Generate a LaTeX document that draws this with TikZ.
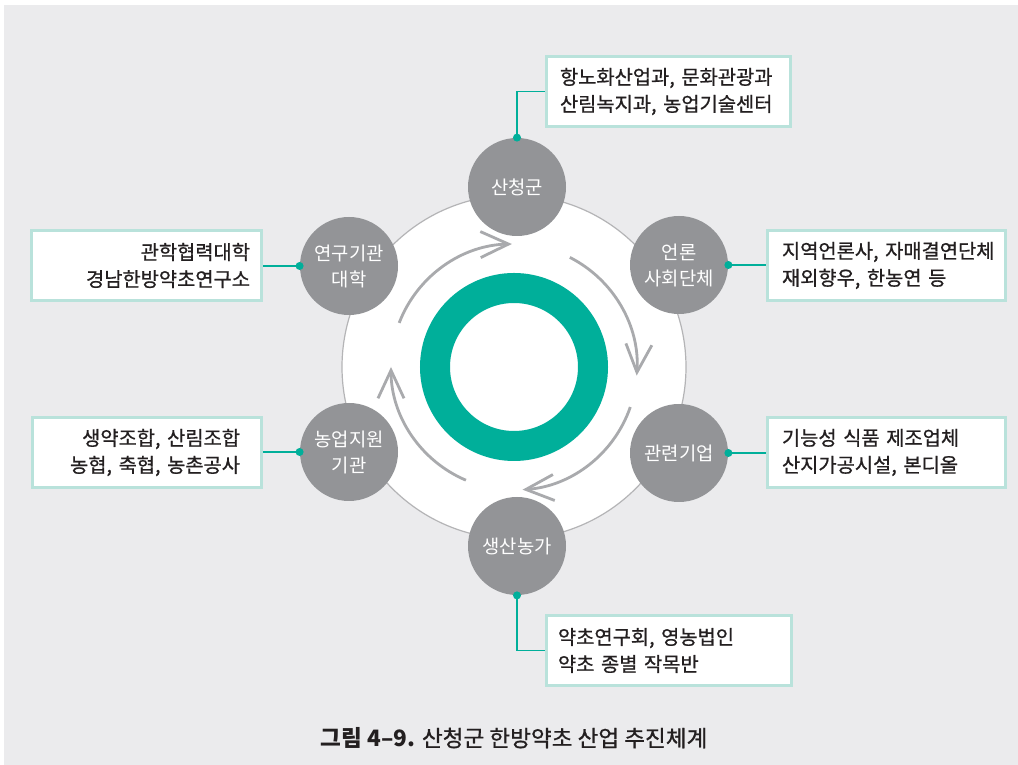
\documentclass[tikz,border=0pt]{standalone}
\usepackage{fontspec}
\setmainfont{Noto Sans CJK KR}
\newfontfamily\mediumfont[FakeBold=0.8]{Noto Sans CJK KR}
\usetikzlibrary{arrows.meta}
\definecolor{bggray}{HTML}{EBEBED}
\definecolor{nodegray}{HTML}{939497}
\definecolor{ringteal}{HTML}{00AF9A}
\definecolor{boxteal}{HTML}{B9E2DB}
\definecolor{arcgray}{HTML}{A9AAAD}
\definecolor{rimgray}{HTML}{B4B4B6}
\definecolor{textdark}{HTML}{231F20}

\begin{document}
\begin{tikzpicture}[x=0.5pt,y=0.5pt,
  actor/.style={circle, fill=nodegray, minimum size=49pt, inner sep=0pt,
    text=white, align=center, font=\fontsize{9.4}{13}\selectfont},
  infobox/.style={draw=boxteal, line width=1.4pt, fill=white,
    minimum height=35pt, inner ysep=0pt, text=textdark,
    font=\mediumfont\fontsize{9.9}{13.5}\selectfont},
  link/.style={ringteal, line width=0.8pt},
  cyclearrow/.style={arcgray, line width=1.4pt,
    -{Straight Barb[length=14pt,width=13pt]}}]
\useasboundingbox (0,0) rectangle (1018,765);
\fill[white] (0,0) rectangle (1018,765);
\fill[bggray] (4,0) rectangle (1018,760);
\coordinate (hub) at (514,398);
\draw [rimgray, line width=0.6pt, fill=white] (hub) circle [radius=172];
\draw [ringteal, line width=15pt] (hub) circle [radius=79];
\foreach \s/\e in {159/91, 63/-4, -19/-86, 247/180}
  \draw [cyclearrow] (hub) ++(\s:123) arc [start angle=\s, end angle=\e, radius=123];
\node [actor] (sancheong) at (517,578) {산청군};
\node [actor] (media) at (679,500) {언론\\사회단체};
\node [actor] (firm) at (679,312) {관련기업};
\node [actor] (farm) at (517,219) {생산농가};
\node [actor] (support) at (349,313) {농업지원\\기관};
\node [actor] (research) at (349,499) {연구기관\\대학};
\node [infobox, inner xsep=6.75pt, text width=108.5pt, align=left] (bAdmin) at (668.5,673.5)
  {항노화산업과,~문화관광과\\산림녹지과,~농업기술센터};
\node [infobox, inner xsep=7.25pt, text width=104.5pt, align=left] (bMedia) at (886.5,499.5)
  {지역언론사,~자매결연단체\\재외향우,~한농연~등};
\node [infobox, inner xsep=7.25pt, text width=104.5pt, align=left] (bFirm) at (886.5,312.5)
  {기능성~식품~제조업체\\산지가공시설,~본디올};
\node [infobox, inner xsep=5.75pt, text width=111pt, align=left] (bFarm) at (669,114.5)
  {약초연구회,~영농법인\\약초~종별~작목반};
\node [infobox, inner xsep=10.75pt, text width=93pt, align=right] (bSupport) at (147,312.5)
  {생약조합,~산림조합\\농협,~축협,~농촌공사};
\node [infobox, inner xsep=5.75pt, text width=103.5pt, align=right] (bResearch) at (146.5,499.5)
  {관학협력대학\\경남한방약초연구소};
\draw [link] (sancheong.north) |- (bAdmin.west);
\draw [link] (media.east) -- (media.east -| bMedia.west);
\draw [link] (firm.east) -- (firm.east -| bFirm.west);
\draw [link] (farm.south) |- (bFarm.west);
\draw [link] (support.west) -- (support.west -| bSupport.east);
\draw [link] (research.west) -- (research.west -| bResearch.east);
\foreach \p in {sancheong.north, media.east, firm.east, farm.south, support.west, research.west}
  \fill [ringteal] (\p) circle [radius=4];
\node [text=textdark, font=\fontsize{11.3}{13}\selectfont] (caption) at (514,27)
  {\textbf{그림 4–9.} {\mediumfont 산청군 한방약초 산업 추진체계}};
\end{tikzpicture}
\end{document}
